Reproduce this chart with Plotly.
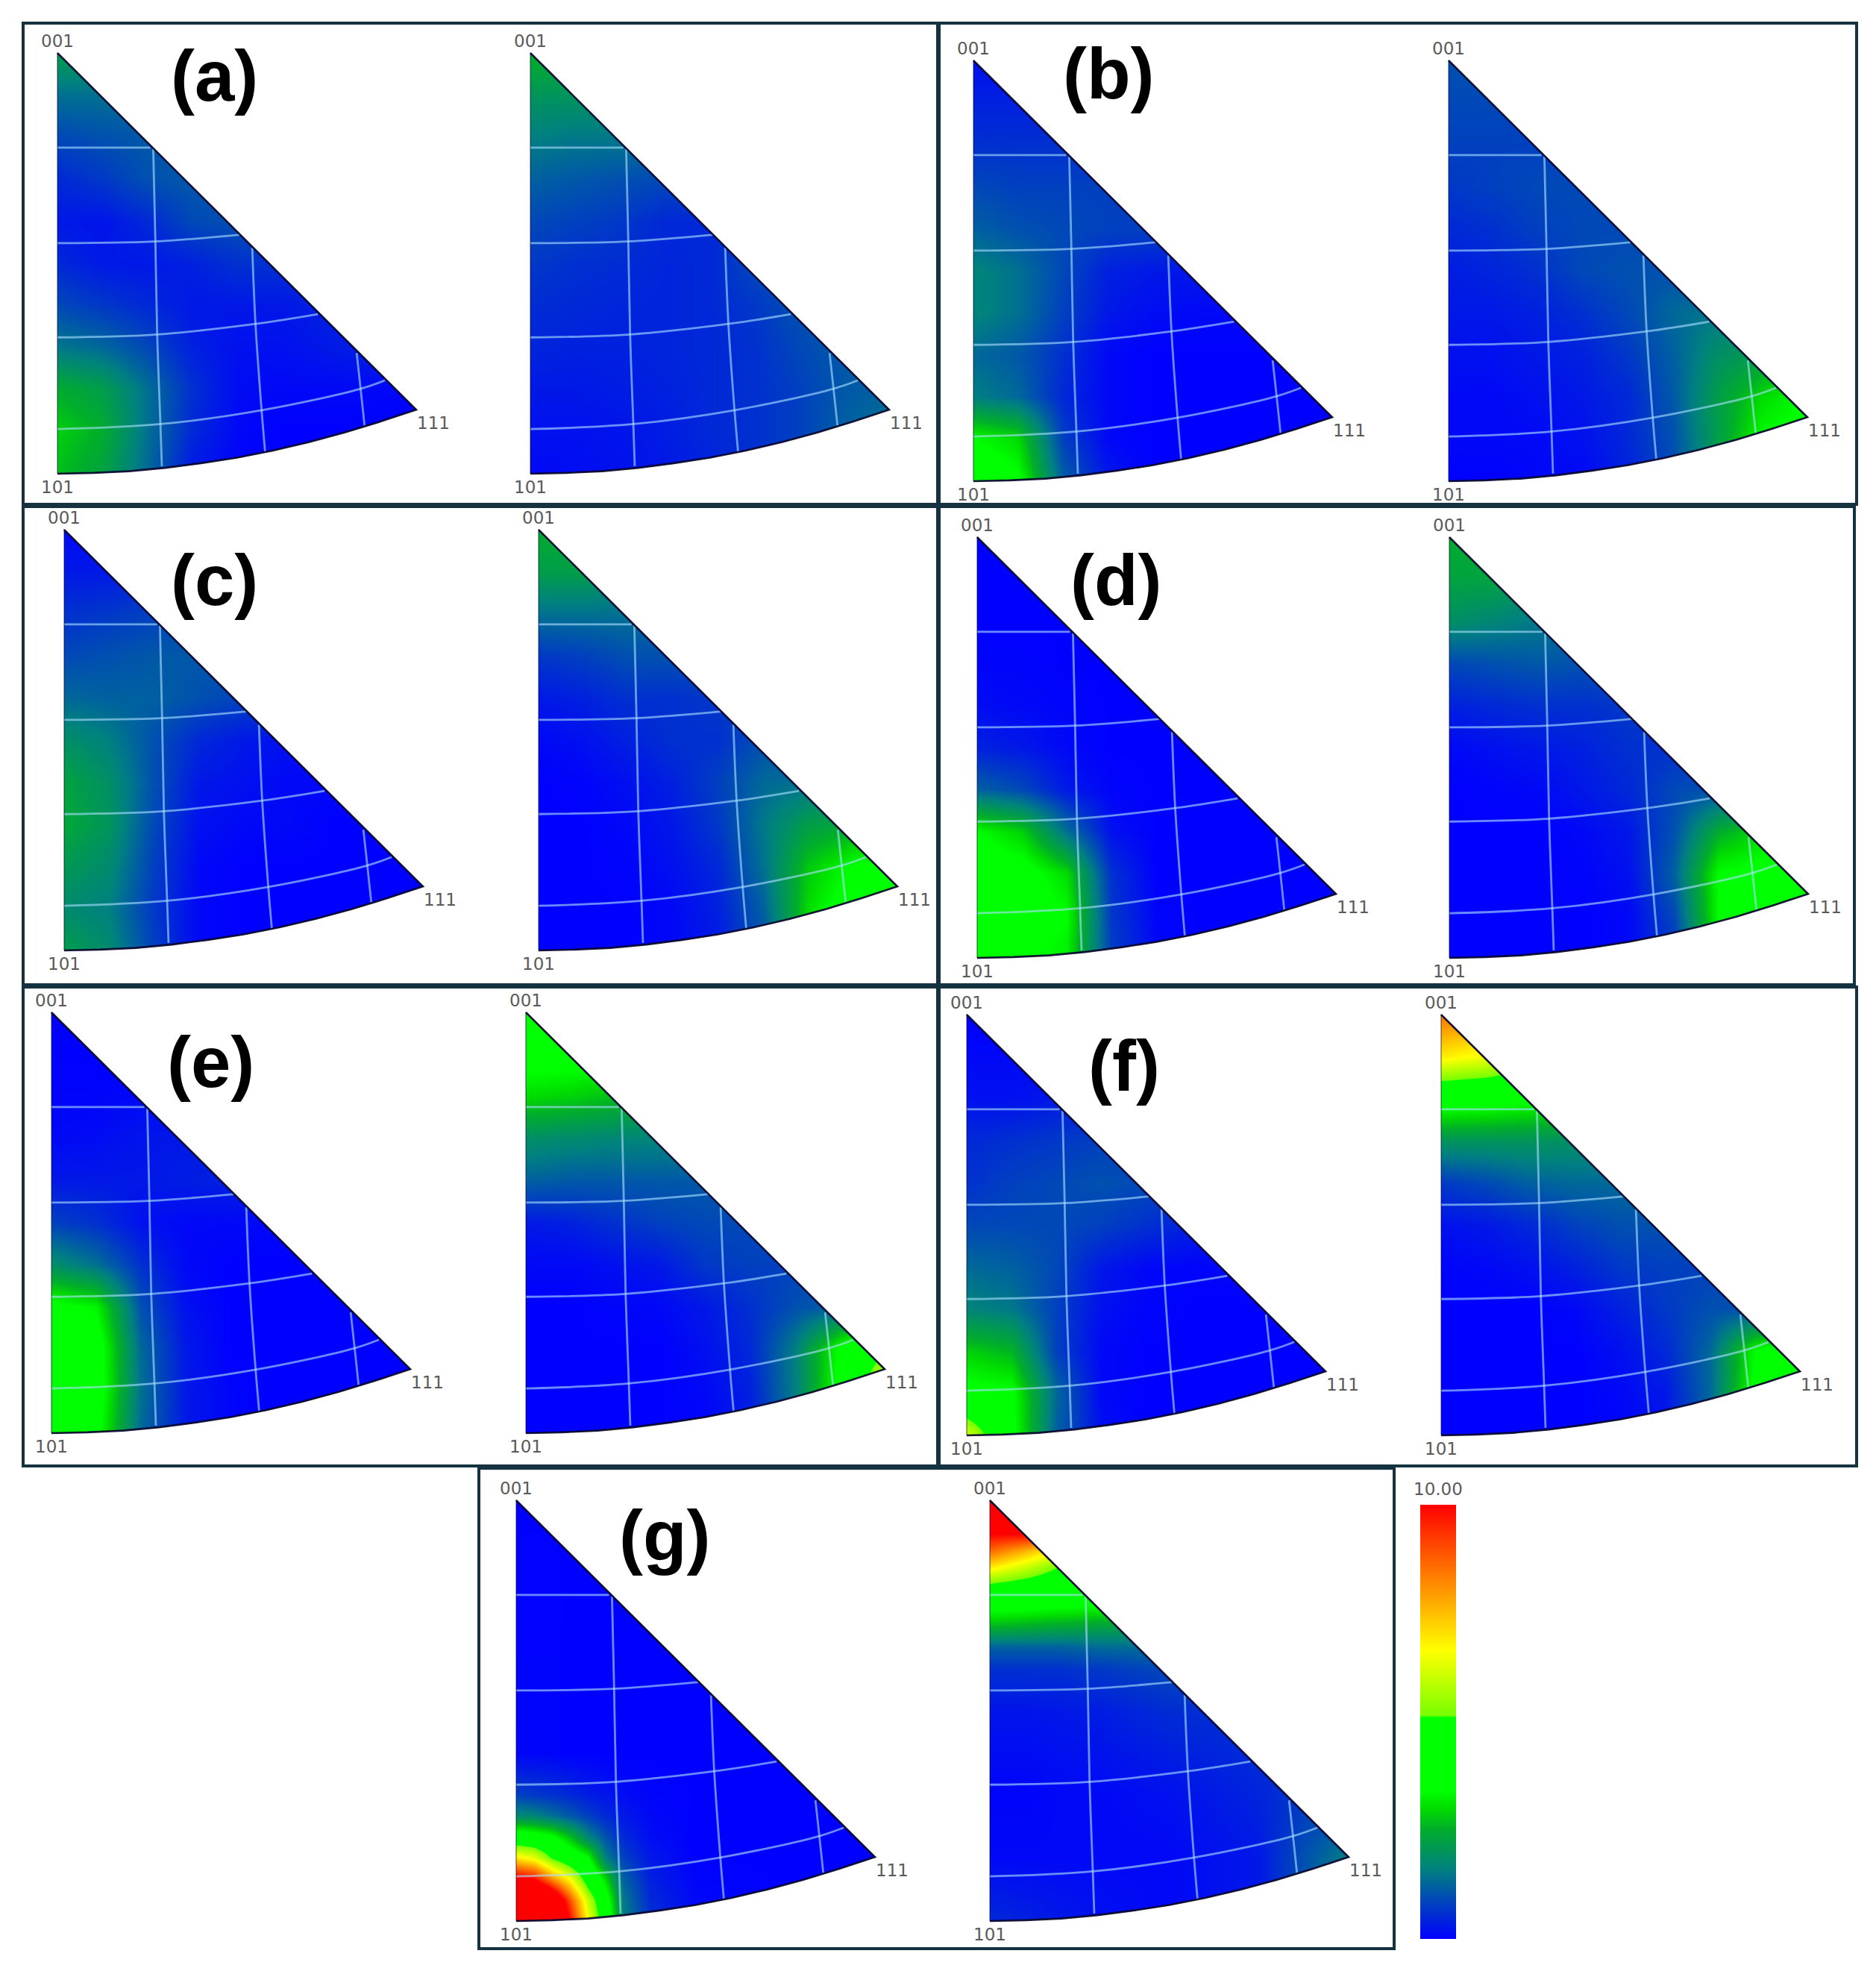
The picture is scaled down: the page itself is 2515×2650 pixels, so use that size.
import plotly.graph_objects as go

# normal-direction grid of each triangle (fractions of triangle width / height)
U = [0, .125, .25, .375, .5, .625, .75, .875, 1]
V = [0, .1, .2, .3, .4, .5, .6, .7, .8, .9, 1]

a_left = [
    [2.2, 2.0, 1.6, 1.2, 1, 1, 1, 1, 1],
    [1.4, 1.4, 1.3, 1.1, 1, 1, 1, 1, 1],
    [.9, 1.0, 1.1, 1.1, 1, 1, 1, 1, 1],
    [.5, .7, 1.0, 1.1, 1.0, 1, 1, 1, 1],
    [.3, .25, .5, .9, 1.0, .9, .8, .8, .8],
    [.5, .3, .3, .4, .6, .6, .6, .6, .6],
    [.9, .7, .5, .3, .3, .3, .4, .4, .4],
    [1.5, 1.3, .9, .4, .2, .2, .3, .4, .4],
    [2.5, 2.2, 1.4, .6, .15, .1, .1, .1, .05],
    [2.9, 2.5, 1.4, .5, .1, 0, 0, 0, 0],
    [2.7, 2.3, 1.3, .3, .05, 0, 0, 0, 0],
]
a_right = [
    [2.6, 2.5, 2.2, 1.8, 1.5, 1.5, 1.5, 1.5, 1.5],
    [2.0, 2.0, 1.9, 1.6, 1.4, 1.4, 1.4, 1.4, 1.4],
    [1.6, 1.5, 1.5, 1.4, 1.2, 1.2, 1.2, 1.2, 1.2],
    [1.2, 1.1, 1.0, .9, .9, .9, .9, .9, .9],
    [.9, .8, .7, .5, .5, .6, .6, .6, .6],
    [.7, .6, .55, .45, .5, .9, 1.0, 1.0, 1.0],
    [.55, .5, .45, .45, .5, .7, 1.0, 1.0, 1.0],
    [.45, .4, .4, .45, .5, .6, .9, 1.1, 1.1],
    [.3, .3, .35, .4, .5, .6, .8, 1.1, 1.2],
    [.2, .2, .25, .35, .5, .6, .8, 1.2, 1.5],
    [.1, .15, .2, .3, .4, .6, .8, 1.2, 1.6],
]
b_left = [
    [.2, .2, .2, .2, .2, .2, .2, .2, .2],
    [.4, .4, .4, .4, .4, .4, .4, .4, .4],
    [.6, .6, .6, .6, .6, .6, .6, .6, .6],
    [.9, .8, .8, .8, .8, .8, .8, .8, .8],
    [1.2, 1.0, .9, .8, .8, .8, .8, .8, .8],
    [1.7, 1.4, .9, .4, .3, .3, .3, .3, .3],
    [1.7, 1.4, .8, .3, .15, .1, .1, .1, .1],
    [1.3, 1.1, .6, .1, 0, 0, 0, 0, 0],
    [1.6, 1.3, .5, .1, 0, 0, 0, 0, 0],
    [3.4, 3.0, .8, .1, 0, 0, 0, 0, 0],
    [4.0, 3.5, 1.2, .3, 0, 0, 0, 0, 0],
]
b_right = [
    [1.0, 1.0, 1.0, 1.0, 1.0, 1.0, 1.0, 1.0, 1.0],
    [.9, .9, .9, .9, .9, .9, .9, .9, .9],
    [.8, .8, .8, .8, .8, .8, .8, .8, .8],
    [.7, .8, .9, .9, .9, .9, .9, .9, .9],
    [.5, .6, .8, .9, .9, .9, .9, .9, .9],
    [.35, .45, .6, .9, 1.0, 1.0, 1.0, 1.0, 1.0],
    [.3, .3, .4, .6, .9, 1.3, 1.5, 1.5, 1.5],
    [.2, .2, .3, .4, .7, 1.2, 1.9, 2.2, 2.2],
    [.1, .1, .2, .3, .5, 1.1, 2.2, 3.0, 3.4],
    [.1, .1, .1, .2, .5, 1.0, 2.2, 3.4, 3.6],
    [0, 0, .1, .1, .4, .9, 2.0, 3.2, 3.6],
]
c_left = [
    [.1, .1, .1, .1, .1, .1, .1, .1, .1],
    [.3, .3, .4, .4, .4, .4, .4, .4, .4],
    [.6, .7, .8, .9, .9, .9, .9, .9, .9],
    [.9, 1.0, 1.1, 1.1, 1.1, 1.1, 1.1, 1.1, 1.1],
    [1.3, 1.2, 1.2, 1.0, .8, .8, .8, .8, .8],
    [1.9, 1.6, 1.0, .5, .3, .2, .2, .2, .2],
    [2.3, 1.9, 1.0, .3, .2, .1, .1, .1, .1],
    [2.4, 2.0, .9, .2, .1, .1, 0, 0, 0],
    [2.1, 1.8, .8, .1, 0, 0, 0, 0, 0],
    [1.8, 1.6, .7, .1, 0, 0, 0, 0, 0],
    [2.2, 1.8, .8, .1, 0, 0, 0, 0, 0],
]
c_right = [
    [2.5, 2.4, 2.0, 1.6, 1.2, 1.2, 1.2, 1.2, 1.2],
    [2.2, 2.2, 1.9, 1.5, 1.2, 1.2, 1.2, 1.2, 1.2],
    [1.4, 1.4, 1.4, 1.2, 1.2, 1.2, 1.2, 1.2, 1.2],
    [.7, .8, 1.0, 1.0, 1.0, 1.0, 1.0, 1.0, 1.0],
    [.3, .4, .6, .6, .7, .8, .8, .8, .8],
    [.1, .2, .4, .6, .6, 1.0, 1.0, 1.0, 1.0],
    [0, .05, .2, .4, .8, 1.3, 1.4, 1.4, 1.4],
    [0, 0, .1, .3, .7, 1.5, 2.2, 2.4, 2.4],
    [0, 0, .05, .2, .5, 1.4, 2.8, 3.4, 3.6],
    [0, 0, 0, .1, .4, 1.2, 3.0, 3.8, 4.4],
    [0, 0, 0, .1, .3, 1.0, 2.6, 3.6, 4.2],
]
d_left = [
    [0, 0, 0, 0, 0, 0, 0, 0, 0],
    [0, 0, 0, 0, 0, 0, 0, 0, 0],
    [0, 0, 0, 0, 0, 0, 0, 0, 0],
    [.05, .05, 0, 0, 0, 0, 0, 0, 0],
    [.15, .1, .05, 0, 0, 0, 0, 0, 0],
    [.4, .3, .1, 0, 0, 0, 0, 0, 0],
    [1.2, .9, .3, .05, 0, 0, 0, 0, 0],
    [3.4, 2.9, 1.4, .2, 0, 0, 0, 0, 0],
    [3.8, 3.7, 3.0, .6, 0, 0, 0, 0, 0],
    [3.9, 3.8, 3.4, .7, .05, 0, 0, 0, 0],
    [3.6, 3.5, 3.2, .8, .1, 0, 0, 0, 0],
]
d_right = [
    [2.5, 2.4, 2.1, 1.8, 1.5, 1.5, 1.5, 1.5, 1.5],
    [2.3, 2.3, 2.0, 1.7, 1.5, 1.5, 1.5, 1.5, 1.5],
    [1.9, 1.7, 1.5, 1.3, 1.2, 1.2, 1.2, 1.2, 1.2],
    [.9, 1.0, 1.1, 1.0, 1.0, 1.0, 1.0, 1.0, 1.0],
    [.4, .5, .6, .6, .7, .7, .7, .7, .7],
    [.1, .2, .3, .4, .6, .6, .6, .6, .6],
    [0, .05, .1, .3, .5, .9, 1.0, 1.0, 1.0],
    [0, 0, 0, .1, .3, 1.0, 2.5, 3.0, 3.0],
    [0, 0, 0, .05, .2, 1.2, 3.4, 3.6, 3.6],
    [0, 0, 0, 0, .1, .9, 3.4, 3.8, 3.8],
    [0, 0, 0, 0, .1, .6, 2.8, 3.6, 3.8],
]
e_left = [
    [0, 0, 0, 0, 0, 0, 0, 0, 0],
    [0, 0, 0, 0, 0, 0, 0, 0, 0],
    [.05, .05, .1, .1, .1, .1, .1, .1, .1],
    [.1, .15, .25, .3, .3, .3, .3, .3, .3],
    [.3, .3, .3, .35, .4, .3, .3, .3, .3],
    [.8, .6, .2, .1, .1, .1, 0, 0, 0],
    [1.9, 1.4, .6, .1, 0, 0, 0, 0, 0],
    [3.6, 3.3, 1.0, .2, 0, 0, 0, 0, 0],
    [4.0, 3.8, 1.3, .3, 0, 0, 0, 0, 0],
    [4.0, 3.8, 1.4, .3, .05, 0, 0, 0, 0],
    [3.8, 3.6, 1.3, .3, .05, 0, 0, 0, 0],
]
e_right = [
    [3.8, 3.7, 3.6, 3.4, 3.4, 3.4, 3.4, 3.4, 3.4],
    [3.7, 3.7, 3.5, 3.3, 3.3, 3.3, 3.3, 3.3, 3.3],
    [3.0, 2.9, 2.7, 2.5, 2.5, 2.5, 2.5, 2.5, 2.5],
    [1.9, 1.8, 1.7, 1.7, 1.7, 1.7, 1.7, 1.7, 1.7],
    [1.2, 1.1, 1.1, 1.1, 1.1, 1.1, 1.1, 1.1, 1.1],
    [.3, .4, .6, .8, .9, .9, .9, .9, .9],
    [.1, .1, .2, .3, .7, .8, .8, .8, .8],
    [0, 0, .05, .1, .3, .6, 1.0, 1.2, 1.2],
    [0, 0, 0, 0, .2, .5, 1.6, 3.5, 5.0],
    [0, 0, 0, 0, .1, .4, 1.6, 3.6, 6.6],
    [0, 0, 0, 0, .05, .3, 1.4, 3.4, 6.6],
]
f_left = [
    [0, 0, 0, 0, 0, 0, 0, 0, 0],
    [.1, .1, .1, .1, .1, .1, .1, .1, .1],
    [.2, .2, .3, .3, .3, .3, .3, .3, .3],
    [.5, .6, .7, .8, .8, .8, .8, .8, .8],
    [.6, .8, .9, 1.0, .9, .9, .9, .9, .9],
    [.9, .9, .9, .8, .6, .4, .3, .3, .3],
    [1.3, 1.2, .9, .3, .1, .05, .05, .05, .05],
    [1.7, 1.5, .8, .2, .05, 0, 0, 0, 0],
    [2.9, 2.6, .8, .1, 0, 0, 0, 0, 0],
    [3.6, 3.5, 1.3, .1, 0, 0, 0, 0, 0],
    [6.2, 3.6, 1.2, .2, 0, 0, 0, 0, 0],
]
f_right = [
    [8.5, 8.2, 7.5, 7, 7, 7, 7, 7, 7],
    [6.9, 6.5, 5.8, 5.5, 5.5, 5.5, 5.5, 5.5, 5.5],
    [3.8, 3.7, 3.5, 3.4, 3.4, 3.4, 3.4, 3.4, 3.4],
    [2.0, 2.0, 2.0, 1.9, 1.9, 1.9, 1.9, 1.9, 1.9],
    [.7, .9, 1.2, 1.3, 1.3, 1.3, 1.3, 1.3, 1.3],
    [.2, .3, .5, .8, 1.0, 1.0, 1.0, 1.0, 1.0],
    [.05, .1, .2, .4, .7, .8, .8, .8, .8],
    [0, 0, 0, .1, .4, .7, 1.0, 1.0, 1.0],
    [0, 0, 0, 0, .2, .5, 1.3, 3.4, 4.0],
    [0, 0, 0, 0, .1, .3, 1.3, 3.6, 6.0],
    [0, 0, 0, 0, .05, .2, 1.2, 3.4, 6.4],
]

# the (g) pair has hot spots with tight rings, so it is read on finer grids
U_G_LEFT = [0, .05, .1, .15, .2, .25, .3, .375, .5, .75, 1]
V_G_LEFT = [0, .6, .7, .75, .8, .85, .9, .95, 1]
g_left = [
    [0, 0, 0, 0, 0, 0, 0, 0, 0, 0, 0],
    [.05, .05, .05, 0, 0, 0, 0, 0, 0, 0, 0],
    [.8, .7, .6, .5, .35, .25, .15, .05, 0, 0, 0],
    [1.8, 1.7, 1.4, 1.1, .8, .5, .3, .1, 0, 0, 0],
    [4.0, 3.8, 3.5, 2.7, 1.7, 1.0, .5, .15, 0, 0, 0],
    [6.9, 6.4, 5.0, 4.1, 3.4, 1.6, .8, .3, 0, 0, 0],
    [10.5, 10, 8.2, 6.65, 4.5, 3.0, 1.2, .4, .05, 0, 0],
    [14, 14, 12, 9.0, 6.0, 3.8, 1.5, .5, .1, 0, 0],
    [14, 14, 13, 10, 6.65, 4.2, 1.6, .6, .1, 0, 0],
]
U_G_RIGHT = [0, .1, .2, .3, .5, .75, .875, 1]
V_G_RIGHT = [0, .08, .12, .16, .2, .25, .3, .35, .4, .5, .7, .85, 1]
g_right = [
    [10, 10, 10, 10, 10, 10, 10, 10],
    [10, 10, 9.5, 9, 9, 9, 9, 9],
    [8.6, 7.6, 6.5, 6, 6, 6, 6, 6],
    [6.9, 6.0, 5.0, 4.8, 4.8, 4.8, 4.8, 4.8],
    [5.0, 4.6, 4.2, 4.0, 4.0, 4.0, 4.0, 4.0],
    [3.7, 3.6, 3.5, 3.4, 3.4, 3.4, 3.4, 3.4],
    [2.6, 2.5, 2.4, 2.3, 2.2, 2.2, 2.2, 2.2],
    [1.2, 1.2, 1.2, 1.3, 1.4, 1.4, 1.4, 1.4],
    [.6, .6, .6, .7, .9, .9, .9, .9],
    [.25, .25, .3, .35, .55, .6, .6, .6],
    [.05, .05, .1, .1, .2, .45, .7, .7],
    [.1, .1, .1, .1, .1, .3, 1.0, 1.6],
    [.5, .4, .3, .2, .1, .3, 1.0, 1.7],
]

# outline of the stereographic triangle
ARC_U = [0, .1, .2, .3, .4, .5, .6, .7, .8, .9, 1]
ARC_V = [1, .998, .994, .986, .975, .962, .945, .925, .902, .876, .848]

# grid lines of the triangle
GRID_LINES = [
    ([0, .259], [.225, .225]),
    ([0, .272, .509], [.452, .448, .432]),
    ([0, .278, .552, .726], [.676, .669, .644, .621]),
    ([0, .287, .569, .845, .913], [.894, .882, .849, .798, .778]),
    ([.267, .273, .278, .287, .291], [.228, .448, .669, .882, .982]),
    ([.543, .552, .569, .579], [.463, .644, .849, .949]),
    ([.834, .845, .856], [.713, .798, .886]),
]

# apex pixel of each triangle
TRIANGLES = [
    (77, 71, a_left, U, V), (711, 71, a_right, U, V),
    (1305, 81, b_left, U, V), (1942, 81, b_right, U, V),
    (86, 710, c_left, U, V), (722, 710, c_right, U, V),
    (1310, 720, d_left, U, V), (1943, 720, d_right, U, V),
    (69, 1357, e_left, U, V), (705, 1357, e_right, U, V),
    (1296, 1360, f_left, U, V), (1932, 1360, f_right, U, V),
    (692, 2011, g_left, U_G_LEFT, V_G_LEFT), (1327, 2011, g_right, U_G_RIGHT, V_G_RIGHT),
]
TRI_W = 481
TRI_H = 564
# whole pixels, so the edge of the plot area is not antialiased into a faint box
PAD_PX = 10

PANEL_LABELS = [
    ("(a)", 287, 101), ("(b)", 1486, 98), ("(c)", 287, 777), ("(d)", 1496, 777),
    ("(e)", 282, 1423), ("(f)", 1507, 1428), ("(g)", 891, 2058),
]
FRAMES = [
    (31, 31, 1257, 676), (1259, 31, 2489, 676),
    (31, 679, 1257, 1320), (1259, 679, 2486, 1320),
    (31, 1323, 1257, 1965), (1259, 1323, 2489, 1965),
    (642, 1968, 1869, 2612),
]

FIG_W = 2515
FIG_H = 2650

COLORSCALE = [
    [0, "rgb(0,0,255)"], [.16, "rgb(0,128,128)"], [.255, "rgb(0,175,40)"],
    [.30, "rgb(0,220,0)"], [.34, "rgb(0,255,0)"], [.51, "rgb(0,255,0)"],
    [.515, "rgb(120,255,0)"], [.665, "rgb(255,255,0)"], [1, "rgb(255,0,0)"],
]
GRID_COLOR = "rgba(170,225,255,0.62)"
EDGE_COLOR = "rgba(0,0,40,0.9)"
FRAME_COLOR = "#14323f"
LABEL_COLOR = "#5a5a5a"


def add_triangle(fig, index, apex_x, apex_y, z, u, v):
    """Draw one triangle on its own pair of axes, in fractions of its size."""
    xname = f"x{index}"
    yname = f"y{index}"

    fig.add_trace(go.Heatmap(
        x=u, y=v, z=z, coloraxis="coloraxis", zsmooth="best",
        xaxis=xname, yaxis=yname, hoverinfo="skip"
    ))

    # white everywhere outside the triangle, reaching past the axis range
    low, high = -0.1, 1.1
    mask_x = [low, high, high, low, low, 0] + ARC_U + [0, low]
    mask_y = [low, low, high, high, low, 0] + ARC_V + [0, low]
    fig.add_trace(go.Scatter(
        x=mask_x, y=mask_y, mode="none", fill="toself", fillcolor="white",
        xaxis=xname, yaxis=yname, hoverinfo="skip"
    ))

    for line_u, line_v in GRID_LINES:
        fig.add_trace(go.Scatter(
            x=line_u, y=line_v, mode="lines",
            line=dict(color=GRID_COLOR, width=2.8, shape="spline"),
            xaxis=xname, yaxis=yname, hoverinfo="skip"
        ))

    # edges: hypotenuse and arc are dark, the left side is much lighter
    fig.add_trace(go.Scatter(
        x=[0, 0], y=[0, 1], mode="lines",
        line=dict(color="rgba(0,0,40,0.45)", width=1.6),
        xaxis=xname, yaxis=yname, hoverinfo="skip"
    ))
    fig.add_trace(go.Scatter(
        x=ARC_U + [0], y=ARC_V + [0], mode="lines",
        line=dict(color=EDGE_COLOR, width=2.6),
        xaxis=xname, yaxis=yname, hoverinfo="skip"
    ))

    axis_style = dict(visible=False, fixedrange=True)
    suffix = "" if index == 1 else str(index)
    pad_x = PAD_PX / TRI_W
    pad_y = PAD_PX / TRI_H
    fig.update_layout(**{
        f"xaxis{suffix}": dict(
            domain=[(apex_x - PAD_PX) / FIG_W, (apex_x + TRI_W + PAD_PX) / FIG_W],
            range=[-pad_x, 1 + pad_x], anchor=yname, **axis_style
        ),
        f"yaxis{suffix}": dict(
            domain=[1 - (apex_y + TRI_H + PAD_PX) / FIG_H, 1 - (apex_y - PAD_PX) / FIG_H],
            range=[1 + pad_y, -pad_y], anchor=xname, **axis_style
        ),
    })


def text_at(text, px, py, size, color=LABEL_COLOR, family="DejaVu Sans", bold=False):
    label = f"<b>{text}</b>" if bold else text
    return dict(
        text=label, x=px / FIG_W, y=1 - py / FIG_H, xref="paper", yref="paper",
        xanchor="center", yanchor="middle", showarrow=False,
        font=dict(size=size, color=color, family=family)
    )


fig = go.Figure()

annotations = []
for i, (apex_x, apex_y, z, u, v) in enumerate(TRIANGLES, start=1):
    add_triangle(fig, i, apex_x, apex_y, z, u, v)
    annotations.append(text_at("001", apex_x, apex_y - 16, 23))
    annotations.append(text_at("101", apex_x, apex_y + TRI_H + 18, 23))
    annotations.append(text_at("111", apex_x + TRI_W + 23, apex_y + 496, 23))

for label, px, py in PANEL_LABELS:
    annotations.append(text_at(label, px, py, 96, "black", "Liberation Sans", True))

annotations.append(text_at("10.00", 1928, 1996, 23))

shapes = [
    dict(
        type="rect", xref="paper", yref="paper",
        x0=x0 / FIG_W, x1=x1 / FIG_W, y0=1 - y0 / FIG_H, y1=1 - y1 / FIG_H,
        line=dict(color=FRAME_COLOR, width=4)
    )
    for x0, y0, x1, y1 in FRAMES
]

fig.update_layout(
    width=FIG_W,
    height=FIG_H,
    margin=dict(l=0, r=0, t=0, b=0),
    paper_bgcolor="white",
    plot_bgcolor="white",
    showlegend=False,
    annotations=annotations,
    shapes=shapes,
    coloraxis=dict(
        cmin=0, cmax=10, colorscale=COLORSCALE,
        colorbar=dict(
            x=1904 / FIG_W, xanchor="left", y=1 - 2599 / FIG_H, yanchor="bottom",
            thickness=48, len=582, lenmode="pixels", xpad=0, ypad=0,
            outlinewidth=0, ticks="", showticklabels=False
        )
    ),
)

fig.write_html(
    "out.html",
    config={"displayModeBar": False},
    post_script="document.body.style.margin='0';"
)
